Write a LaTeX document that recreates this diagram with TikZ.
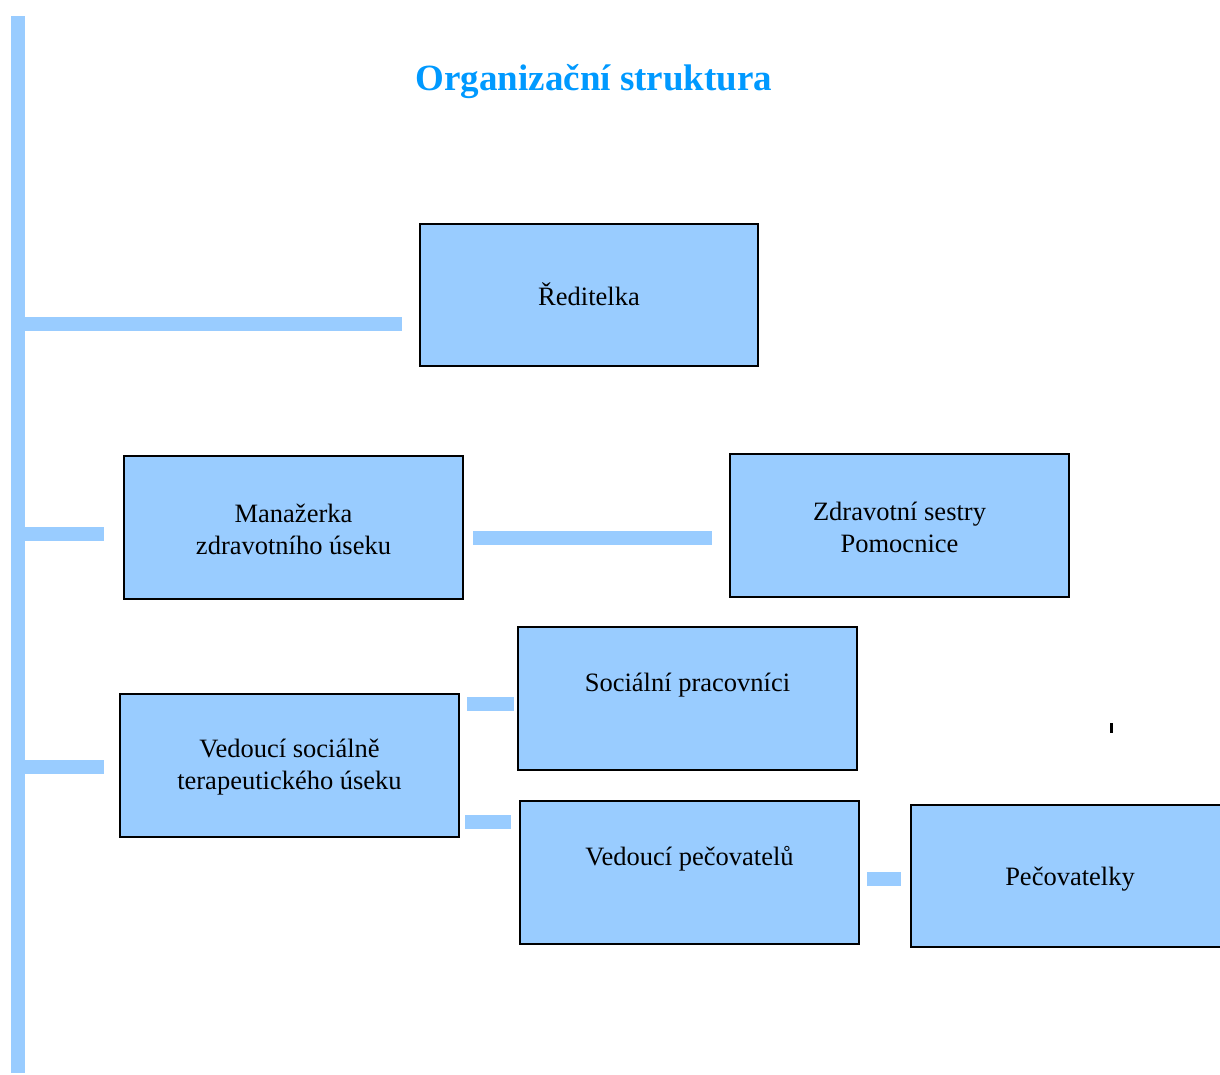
\documentclass[tikz,border=0pt]{standalone}
\usepackage{fontspec}
\setmainfont{Liberation Serif}
\definecolor{boxfill}{HTML}{99CCFF}
\definecolor{titleblue}{HTML}{0099FF}
\begin{document}
\begin{tikzpicture}[x=1pt,y=-1pt,
  orgbox/.style={draw=black,line width=1.5pt,fill=boxfill},
  bar/.style={fill=boxfill,draw=none},
  lbl/.style={font=\fontsize{26.5}{32}\selectfont,align=center,inner sep=0pt}]
\useasboundingbox (0,0) rectangle (1220,1074);
% vertical bar
\fill[bar] (11,16) rectangle (25,1073);
% title
\node[font=\fontsize{37}{44}\selectfont\bfseries,text=titleblue,inner sep=0pt] (title) at (594,82) {Organizační struktura};
% boxes
\draw[orgbox] (420,224) rectangle (758,366);
\node[lbl] (red) at (589,294) {Ředitelka};
\draw[orgbox] (124,456) rectangle (463,599);
\node[lbl] (man) at (293.5,529) {Manažerka\\zdravotního úseku};
\draw[orgbox] (730,454) rectangle (1069,597);
\node[lbl] (zdr) at (899.5,527) {Zdravotní sestry\\Pomocnice};
\draw[orgbox] (518,627) rectangle (857,770);
\node[lbl] (soc) at (687.5,685) {Sociální pracovníci};
\draw[orgbox] (120,694) rectangle (459,837);
\node[lbl] (ved) at (289.5,767.5) {Vedoucí sociálně\\terapeutického úseku};
\draw[orgbox] (520,801) rectangle (859,944);
\node[lbl] (vpec) at (689.5,859) {Vedoucí pečovatelů};
\fill[boxfill] (911,805) rectangle (1220,947);
\draw[line width=1.5pt] (1221,805) -- (911,805) -- (911,947) -- (1221,947);
\node[lbl] (pec) at (1070,879) {Pečovatelky};
% bars
\fill[bar] (25,317) rectangle (402,331);
\fill[bar] (25,527) rectangle (104,541);
\fill[bar] (25,760) rectangle (104,774);
\fill[bar] (473,531) rectangle (712,545);
\fill[bar] (467,697) rectangle (514,711);
\fill[bar] (465,815) rectangle (511,829);
\fill[bar] (867,872) rectangle (901,886);
% small mark
\fill[black] (1110,723) rectangle (1113,733);
\end{tikzpicture}
\end{document}
